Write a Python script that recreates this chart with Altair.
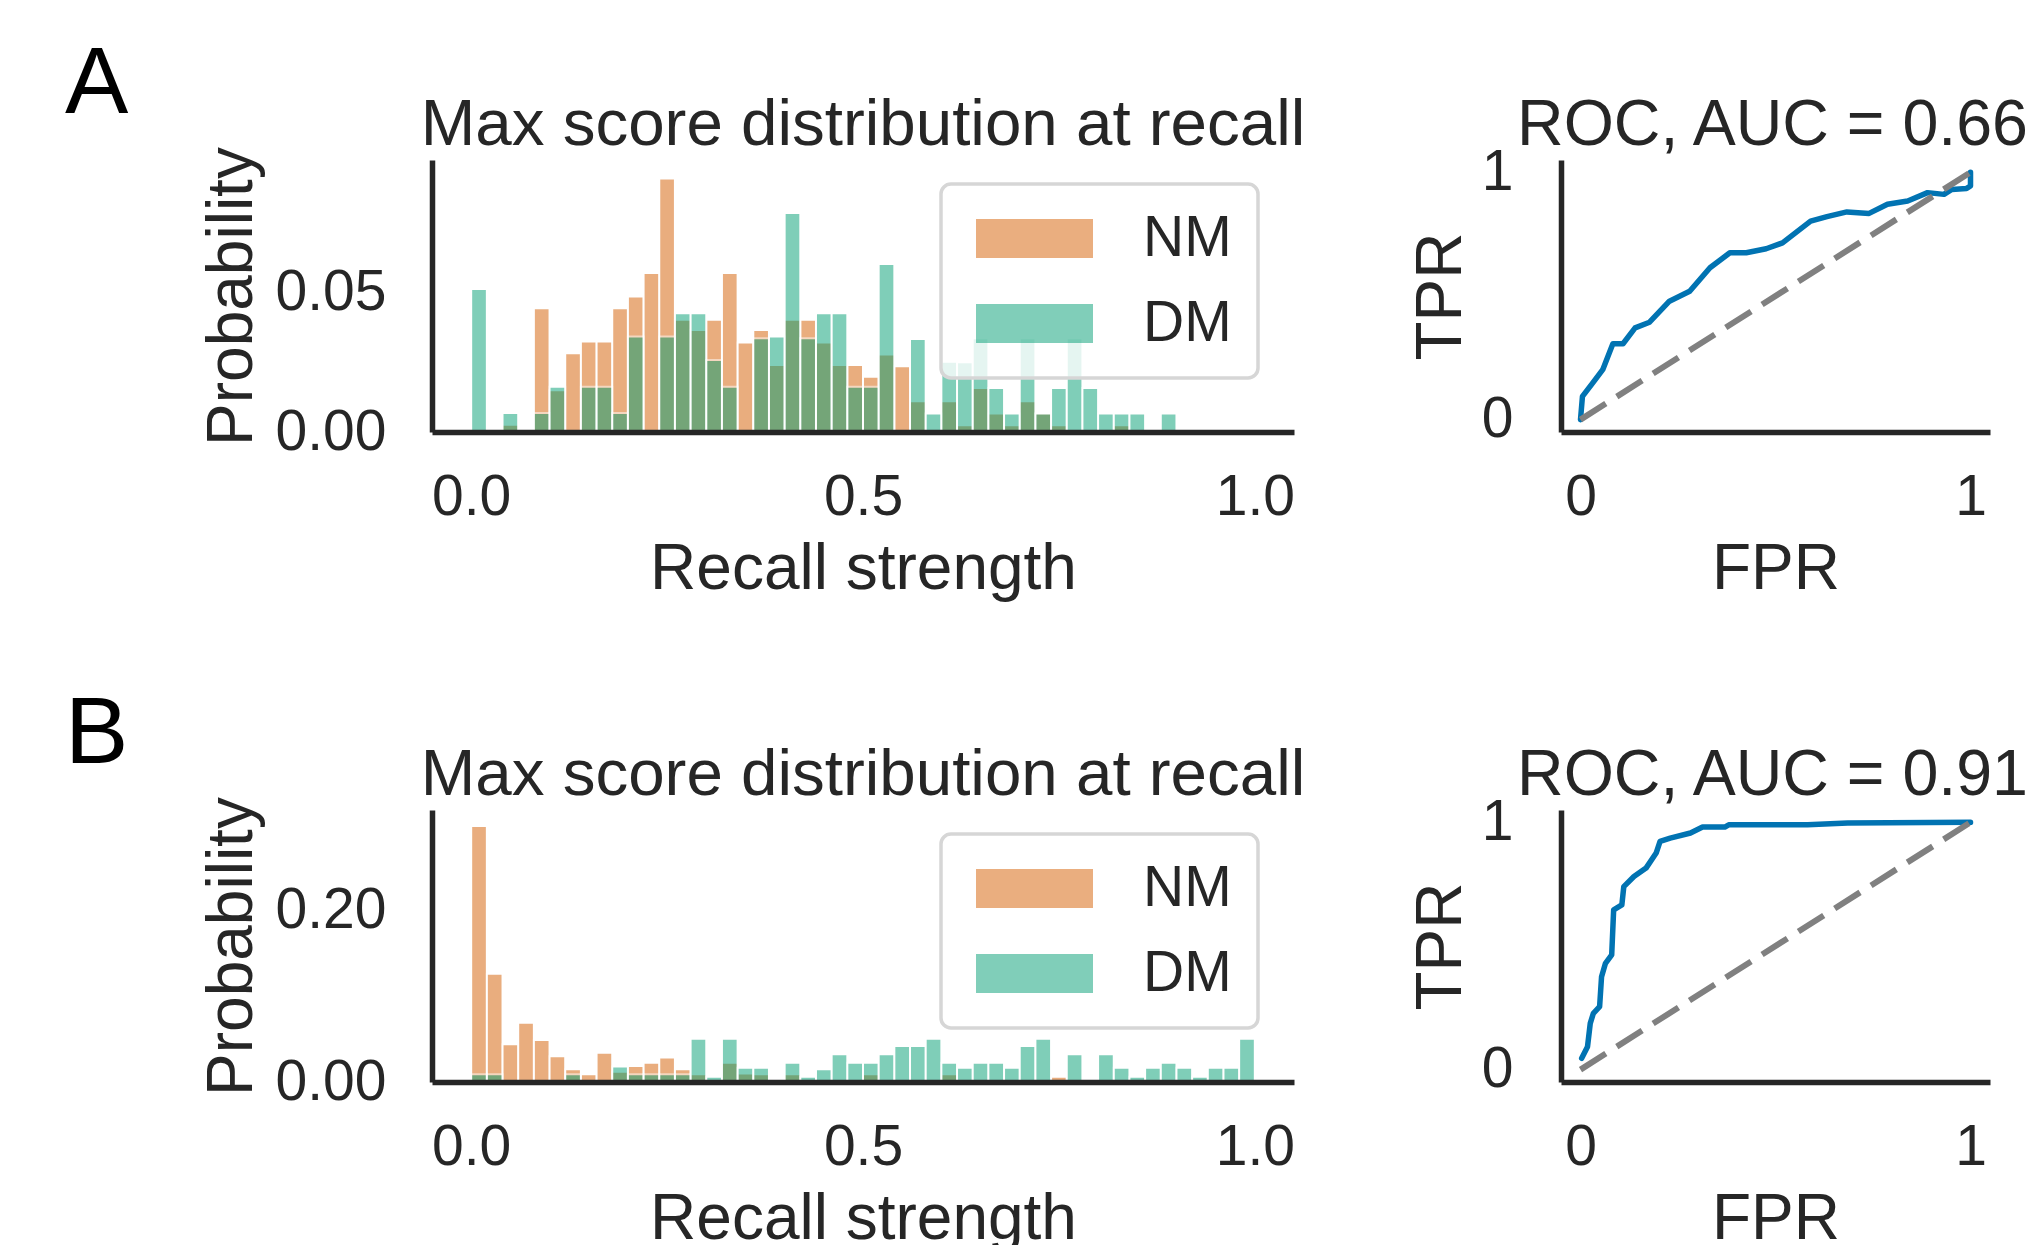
import altair as alt
import pandas as pd

# ---------------- data ----------------
BIN_W = 0.02
BIN_STARTS = [round(BIN_W * k, 2) for k in range(50)]

# Panel A: probability per bin (50 bins of width 0.02 on [0, 1])
A_NM = [0, 0, 0.0026, 0, 0.0444, 0.0150, 0.0282, 0.0324, 0.0324, 0.0444,
        0.0486, 0.0570, 0.0909, 0.0402, 0.0366, 0.0402, 0.0570, 0.0321, 0.0366, 0.0240,
        0.0402, 0.0402, 0.0321, 0.0240, 0.0240, 0.0198, 0.0278, 0.0236, 0.0110, 0,
        0.0110, 0.0024, 0.0158, 0.0066, 0.0024, 0.0110, 0.0066, 0.0024, 0, 0,
        0, 0.0024, 0, 0, 0, 0, 0, 0, 0, 0]
A_DM = [0.0513, 0, 0.0068, 0, 0.0068, 0.0162, 0, 0.0162, 0.0162, 0.0068,
        0.0342, 0, 0.0342, 0.0426, 0.0426, 0.0258, 0.0162, 0, 0.0336, 0.0342,
        0.0785, 0.0336, 0.0426, 0.0426, 0.0162, 0.0162, 0.0602, 0, 0.0333, 0.0066,
        0.0252, 0.0250, 0.0336, 0.0158, 0.0066, 0.0336, 0.0066, 0.0158, 0.0336, 0.0158,
        0.0066, 0.0066, 0.0066, 0, 0.0066, 0, 0, 0, 0, 0]

# Panel B
B_NM = [0.2994, 0.1267, 0.0440, 0.0694, 0.0490, 0.0300, 0.0148, 0.0090, 0.0343, 0.0120,
        0.0187, 0.0226, 0.0285, 0.0148, 0.0090, 0, 0.0226, 0.0100, 0.0090, 0,
        0.0090, 0, 0, 0, 0, 0.0090, 0, 0, 0, 0,
        0.0090, 0, 0, 0, 0, 0, 0, 0.0060, 0, 0,
        0, 0, 0, 0, 0, 0, 0, 0, 0, 0]
B_DM = [0.0090, 0.0090, 0, 0, 0, 0, 0.0090, 0, 0, 0.0180,
        0.0090, 0.0090, 0.0090, 0.0090, 0.0507, 0.0060, 0.0507, 0.0168, 0.0168, 0,
        0.0226, 0.0060, 0.0148, 0.0324, 0.0226, 0.0226, 0.0324, 0.0420, 0.0420, 0.0507,
        0.0226, 0.0168, 0.0226, 0.0226, 0.0168, 0.0420, 0.0507, 0, 0.0324, 0,
        0.0324, 0.0168, 0.0060, 0.0168, 0.0226, 0.0168, 0.0060, 0.0168, 0.0168, 0.0507]

# ROC curves
ROC_A_FPR = [0, 0.005, 0.031, 0.057, 0.083, 0.109, 0.140, 0.177, 0.228, 0.280,
             0.332, 0.383, 0.425, 0.476, 0.518, 0.590, 0.632, 0.683, 0.740, 0.787,
             0.839, 0.890, 0.932, 0.952, 0.990, 1.0, 1.0]
ROC_A_TPR = [0, 0.094, 0.148, 0.202, 0.307, 0.307, 0.371, 0.394, 0.479, 0.519,
             0.614, 0.675, 0.675, 0.691, 0.715, 0.803, 0.821, 0.840, 0.834, 0.871,
             0.884, 0.918, 0.911, 0.931, 0.935, 0.945, 1.0]
ROC_B_FPR = [0.003, 0.018, 0.025, 0.033, 0.049, 0.054, 0.064, 0.080, 0.085, 0.106,
             0.111, 0.137, 0.168, 0.194, 0.204, 0.230, 0.282, 0.313, 0.370, 0.380,
             0.582, 0.685, 1.0]
ROC_B_TPR = [0.046, 0.093, 0.187, 0.228, 0.255, 0.376, 0.430, 0.464, 0.646, 0.666,
             0.740, 0.781, 0.815, 0.876, 0.923, 0.936, 0.957, 0.981, 0.981, 0.990,
             0.990, 0.997, 1.0]
DIAG = [0, 1]

AUC_A = "0.66"
AUC_B = "0.91"
HIST_TITLE = "Max score distribution at recall"
GROUPS = ["NM", "DM"]
GROUP_COLORS = ["#D55E00", "#029E73"]

# ---------------- style ----------------
FONT = "Liberation Sans"
TXT = "#262626"
HIST_W, HIST_H = 862, 272
ROC_W, ROC_H = 429, 272


def title_mark(text, xpos, size):
    return alt.Chart(pd.DataFrame({"t": [text]})).mark_text(
        font=FONT, fontSize=size, align="center", baseline="alphabetic", color=TXT
    ).encode(text="t:N", x=alt.value(xpos), y=alt.value(-15))


def hist_df(nm, dm):
    rows = []
    for grp, vals in zip(GROUPS, (nm, dm)):
        for s, v in zip(BIN_STARTS, vals):
            if v > 0:
                rows.append({"start": s, "end": round(s + BIN_W, 2), "prob": v, "group": grp})
    return pd.DataFrame(rows)


def hist_chart(nm, dm, ymax, yticks, letter):
    df = hist_df(nm, dm)
    bars = alt.Chart(df).mark_bar(opacity=0.5, stroke="white", strokeWidth=2).encode(
        x=alt.X("start:Q", scale=alt.Scale(domain=[-0.05, 1.05], nice=False, zero=False),
                axis=alt.Axis(values=[0, 0.5, 1], format=".1f", title="Recall strength",
                              labelPadding=37, titlePadding=12, labelFlush=False, zindex=1)),
        x2="end:Q",
        y=alt.Y("prob:Q", stack=None, scale=alt.Scale(domain=[0, ymax], nice=False),
                axis=alt.Axis(values=yticks, format=".2f", title="Probability",
                              labelPadding=46, titlePadding=11, zindex=1)),
        y2=alt.datum(0),
        color=alt.Color("group:N", sort=GROUPS,
                        scale=alt.Scale(domain=GROUPS, range=GROUP_COLORS),
                        legend=alt.Legend(title=None, orient="none", legendX=509, legendY=24,
                                          symbolType="M-1,-1L5,-1L5,1L-1,1Z", symbolSize=1521,
                                          symbolOpacity=0.5, symbolStrokeWidth=0,
                                          labelFont=FONT, labelFontSize=57, labelColor=TXT,
                                          labelOffset=119, rowPadding=27, padding=26,
                                          strokeColor="#d6d6d6", fillColor="rgba(255,255,255,0.8)",
                                          cornerRadius=10)),
    )
    lab = alt.Chart(pd.DataFrame({"label": [letter]})).mark_text(
        font=FONT, fontSize=95, align="left", baseline="alphabetic", color="black"
    ).encode(text="label:N", x=alt.value(-367), y=alt.value(-47))
    return alt.layer(bars, lab, title_mark(HIST_TITLE, HIST_W / 2, 65.5)).properties(
        width=HIST_W, height=HIST_H)


def roc_chart(fpr, tpr, auc):
    df = pd.DataFrame({"fpr": fpr, "tpr": tpr, "idx": list(range(len(fpr)))})
    ddf = pd.DataFrame({"fpr": DIAG, "tpr": DIAG})
    xs = alt.Scale(domain=[-0.05, 1.05], nice=False, zero=False)
    ys = alt.Scale(domain=[-0.05, 1.05], nice=False, zero=False)
    xa = alt.Axis(values=[0, 1], format="d", title="FPR", labelPadding=37, titlePadding=12,
                  labelFlush=False, zindex=1)
    ya = alt.Axis(values=[0, 1], format="d", title="TPR", labelPadding=48, titlePadding=8,
                  zindex=1)
    curve = alt.Chart(df).mark_line(color="#0173B2", strokeWidth=5.5, strokeCap="round",
                                    strokeJoin="round").encode(
        x=alt.X("fpr:Q", scale=xs, axis=xa),
        y=alt.Y("tpr:Q", scale=ys, axis=ya),
        order="idx:Q",
    )
    diag = alt.Chart(ddf).mark_line(color="#808080", strokeWidth=6, strokeDash=[30, 13]).encode(
        x=alt.X("fpr:Q", scale=xs, axis=xa),
        y=alt.Y("tpr:Q", scale=ys, axis=ya),
    )
    return alt.layer(curve, diag, title_mark(f"ROC, AUC = {auc}", ROC_W / 2 - 3, 64.5)).properties(
        width=ROC_W, height=ROC_H)


hA = hist_chart(A_NM, A_DM, 0.0975, [0, 0.05], "A")
rA = roc_chart(ROC_A_FPR, ROC_A_TPR, AUC_A)
hB = hist_chart(B_NM, B_DM, 0.318, [0, 0.2], "B")
rB = roc_chart(ROC_B_FPR, ROC_B_TPR, AUC_B)

chart = alt.concat(hA, rA, hB, rB, columns=2, spacing={"row": 378, "column": 267},
                   bounds="flush").resolve_scale(color="independent").resolve_legend(
    color="independent"
).properties(
    padding={"left": 57, "top": 29, "right": 0, "bottom": 0},
    background="white",
).configure_view(stroke=None).configure_axis(
    domainColor=TXT, domainWidth=5.5, ticks=False, tickSize=0, grid=False,
    labelFont=FONT, labelFontSize=57, labelColor=TXT,
    titleFont=FONT, titleFontSize=64, titleFontWeight="normal", titleColor=TXT,
).configure_legend(strokeWidth=3.5)

chart.save("out.html", embed_options={"renderer": "svg", "actions": False})
